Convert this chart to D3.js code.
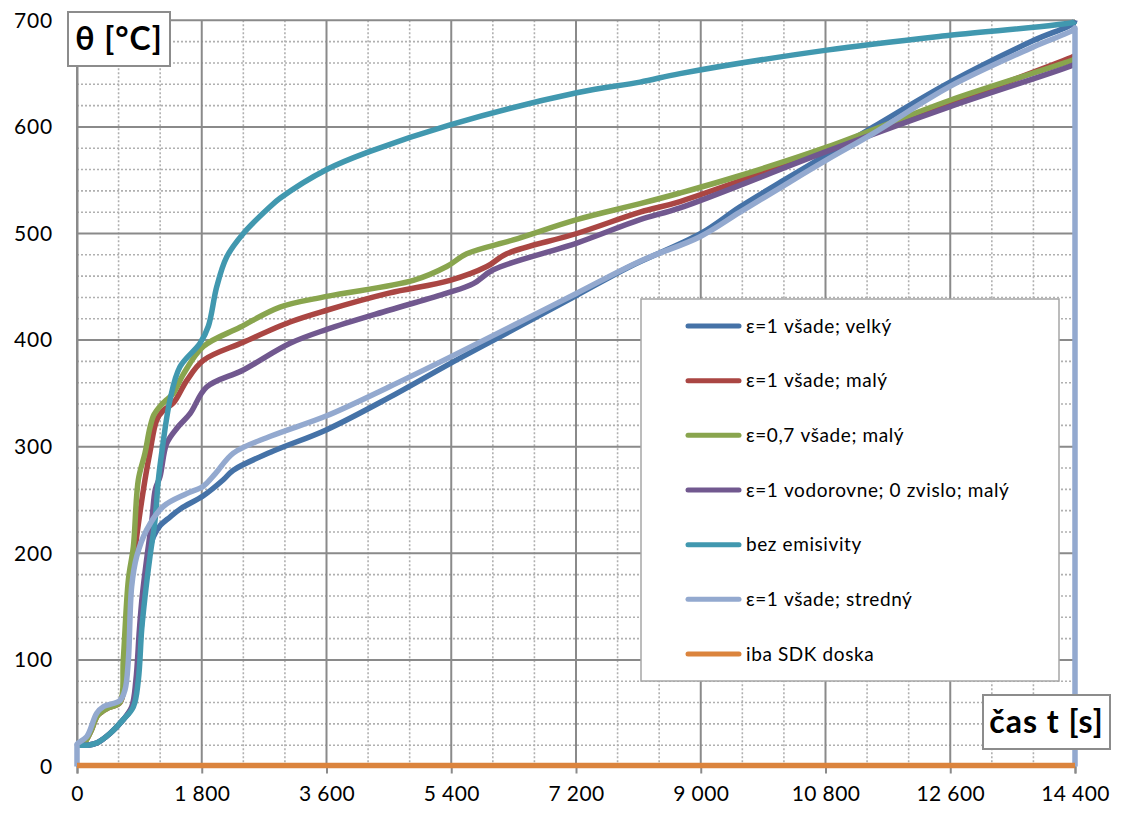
<!DOCTYPE html>
<html>
<head>
<meta charset="utf-8">
<script src="https://cdn.jsdelivr.net/npm/d3@7"></script>
<style>
  html, body { margin: 0; padding: 0; background: #fff; }
  svg { display: block; font-family: Lato, "Noto Sans", sans-serif; }
</style>
</head>
<body>
<svg id="chart" width="1124" height="816"></svg>
<script>
// ---------- data (t [s], θ [°C]) ----------
const seriesNames = [
  "ε=1 všade; velký",
  "ε=1 všade; malý",
  "ε=0,7 všade; malý",
  "ε=1 vodorovne; 0 zvislo; malý",
  "bez emisivity",
  "ε=1 všade; stredný",
  "iba SDK doska"
];
const seriesColors = ["#4572A7", "#AA4643", "#89A54E", "#71588F", "#4198AF", "#93A9CF", "#DB843D"];

const velky = [[0,20],[150,20],[284,22],[476,31],[668,44],[800,56],[870,80],[920,125],[970,160],[1040,200],[1100,215],[1200,226],[1342,234],[1500,242],[1823,254],[2111,269],[2256,278],[2800,295],[3603,316],[4500,346],[5382,378],[6300,410],[7211,442],[7980,469],[9000,500],[9567,525],[10200,550],[10818,574],[11491,600],[12597,642],[13799,681],[14376,697],[14400,700]];
const maly = [[0,20],[100,22],[200,33],[300,48],[450,55],[620,60],[700,100],[780,170],[870,220],[981,269],[1053,295],[1150,325],[1246,334],[1390,341],[1583,362],[1823,381],[2400,398],[3074,417],[3603,428],[4500,444],[5382,456],[5912,469],[6200,481],[7211,500],[8124,520],[8701,530],[10818,579],[12597,622],[14376,666],[14400,667]];
const maly07 = [[0,20],[100,22],[200,33],[300,48],[450,55],[620,60],[668,100],[741,175],[813,206],[885,269],[981,294],[1053,318],[1110,330],[1198,338],[1294,344],[1390,350],[1534,368],[1823,394],[2352,412],[2929,431],[3603,441],[4853,456],[5335,469],[5623,481],[6296,494],[7211,513],[8124,528],[8701,538],[9500,553],[10818,581],[12597,625],[14376,663],[14400,664]];
const vodorovne = [[0,20],[150,20],[284,22],[476,31],[668,44],[790,56],[850,81],[900,128],[940,159],[1010,197],[1080,231],[1130,260],[1198,272],[1294,303],[1450,318],[1631,331],[1871,356],[2400,372],[3074,397],[3603,410],[4500,428],[5335,444],[5719,453],[6007,466],[7211,491],[8124,513],[8701,524],[10818,577],[12597,619],[14376,658],[14400,659]];
const bezEmisivity = [[0,20],[150,20],[284,22],[476,31],[668,44],[813,56],[885,81],[933,128],[981,159],[1053,197],[1126,231],[1174,269],[1222,294],[1342,344],[1486,375],[1775,397],[1895,413],[2016,450],[2160,478],[2400,500],[2785,525],[2929,533],[3603,560],[4228,577],[5382,602],[7211,632],[8124,642],[8701,650],[10818,672],[12597,686],[14376,698],[14400,699]];
const stredny = [[0,0],[0,19],[0,21],[140,28],[284,50],[380,56],[620,62],[693,72],[741,100],[789,169],[861,197],[1005,222],[1246,244],[1583,256],[1823,263],[2000,275],[2256,294],[2800,310],[3603,329],[4500,356],[5382,384],[6300,414],[7211,444],[8124,474],[8990,497],[9567,520],[10200,545],[10818,569],[11491,594],[12597,638],[13799,675],[14376,691],[14400,693],[14400,690],[14400,0]];
const sdkDoska = [[0,1],[3600,1],[7200,1],[10800,1],[14400,1]];

const seriesData = [velky, maly, maly07, vodorovne, bezEmisivity, stredny, sdkDoska];

const xTicks = [0, 1800, 3600, 5400, 7200, 9000, 10800, 12600, 14400];
const yTicks = [0, 100, 200, 300, 400, 500, 600, 700];
const yTitle = "θ [°C]";
const xTitle = "čas t [s]";

// ---------- drawing ----------
const svg = d3.select("#chart");
const x = d3.scaleLinear().domain([0, 14400]).range([77, 1075]);
const y = d3.scaleLinear().domain([0, 700]).range([766.5, 20.3]);
const fmt = d3.formatLocale({decimal: ",", thousands: " ", grouping: [3], currency: ["", ""]}).format(",");

const minorX = d3.range(0, 14401, 600).filter(v => v % 1800 !== 0);
const minorY = d3.range(0, 701, 20).filter(v => v % 100 !== 0);

const grid = svg.append("g");
grid.selectAll(".mx").data(minorX).join("line")
  .attr("x1", d => x(d)).attr("x2", d => x(d))
  .attr("y1", y(700)).attr("y2", y(0))
  .attr("stroke", "#b0b0b0").attr("stroke-width", 1.6).attr("stroke-dasharray", "2,2");
grid.selectAll(".my").data(minorY).join("line")
  .attr("x1", x(0)).attr("x2", x(14400))
  .attr("y1", d => y(d)).attr("y2", d => y(d))
  .attr("stroke", "#b0b0b0").attr("stroke-width", 1.6).attr("stroke-dasharray", "2,2");
grid.selectAll(".Mx").data(xTicks).join("line")
  .attr("x1", d => x(d)).attr("x2", d => x(d))
  .attr("y1", y(700)).attr("y2", y(0))
  .attr("stroke", "#8a8a8a").attr("stroke-width", 2);
grid.selectAll(".My").data(yTicks).join("line")
  .attr("x1", x(0)).attr("x2", x(14400))
  .attr("y1", d => y(d)).attr("y2", d => y(d))
  .attr("stroke", "#8a8a8a").attr("stroke-width", 2);

// axes
const xAxis = svg.append("g").attr("transform", `translate(0,${y(0)})`)
  .call(d3.axisBottom(x).tickValues(xTicks).tickFormat(fmt).tickSize(7).tickPadding(13));
xAxis.select(".domain").attr("stroke", "#8a8a8a").attr("stroke-width", 2);
xAxis.selectAll(".tick line").attr("stroke", "#8a8a8a").attr("stroke-width", 2);
xAxis.selectAll("text").attr("font-size", 21).attr("letter-spacing", 0.4).attr("fill", "#000").attr("font-family", "Lato, 'Noto Sans', sans-serif");

const yAxis = svg.append("g").attr("transform", `translate(${x(0)},0)`)
  .call(d3.axisLeft(y).tickValues(yTicks).tickFormat(fmt).tickSize(0).tickPadding(24));
yAxis.select(".domain").attr("stroke", "#8a8a8a").attr("stroke-width", 2);
yAxis.selectAll("text").attr("font-size", 21).attr("letter-spacing", 0.8).attr("fill", "#000").attr("font-family", "Lato, 'Noto Sans', sans-serif");

// series
const line = d3.line().x(d => x(d[0])).y(d => y(d[1])).curve(d3.curveCatmullRom.alpha(0.5));
svg.append("g").selectAll("path").data(seriesData).join("path")
  .attr("d", line)
  .attr("fill", "none")
  .attr("stroke", (d, i) => seriesColors[i])
  .attr("stroke-width", 5.5)
  .attr("stroke-linejoin", "round");

// legend
const lg = svg.append("g");
lg.append("rect").attr("x", 641).attr("y", 299).attr("width", 418).attr("height", 382)
  .attr("fill", "#fff").attr("stroke", "#a6a6a6").attr("stroke-width", 1.5);
const items = lg.selectAll(".it").data(seriesNames).join("g")
  .attr("transform", (d, i) => `translate(0,${326 + i * 54.67})`);
items.append("line").attr("x1", 688).attr("x2", 739).attr("y1", 0).attr("y2", 0)
  .attr("stroke", (d, i) => seriesColors[i]).attr("stroke-width", 5).attr("stroke-linecap", "round");
items.append("text").attr("x", 746).attr("y", 0).attr("dy", "0.35em")
  .attr("font-size", 19).attr("fill", "#000").attr("letter-spacing", 0.6).text(d => d);

// axis titles in boxes
function titleBox(bx, by, bw, bh, txt, fs) {
  const g = svg.append("g");
  g.append("rect").attr("x", bx).attr("y", by).attr("width", bw).attr("height", bh)
    .attr("fill", "#fff").attr("stroke", "#8c8c8c").attr("stroke-width", 2);
  g.append("text").attr("x", bx + bw / 2).attr("y", by + bh / 2).attr("dy", "0.35em")
    .attr("text-anchor", "middle").attr("font-weight", "bold").attr("font-size", fs)
    .attr("letter-spacing", 1).attr("fill", "#000").text(txt);
}
titleBox(68, 12, 102, 54, yTitle, 32);
titleBox(983, 695, 127, 54, xTitle, 32);
</script>
</body>
</html>
